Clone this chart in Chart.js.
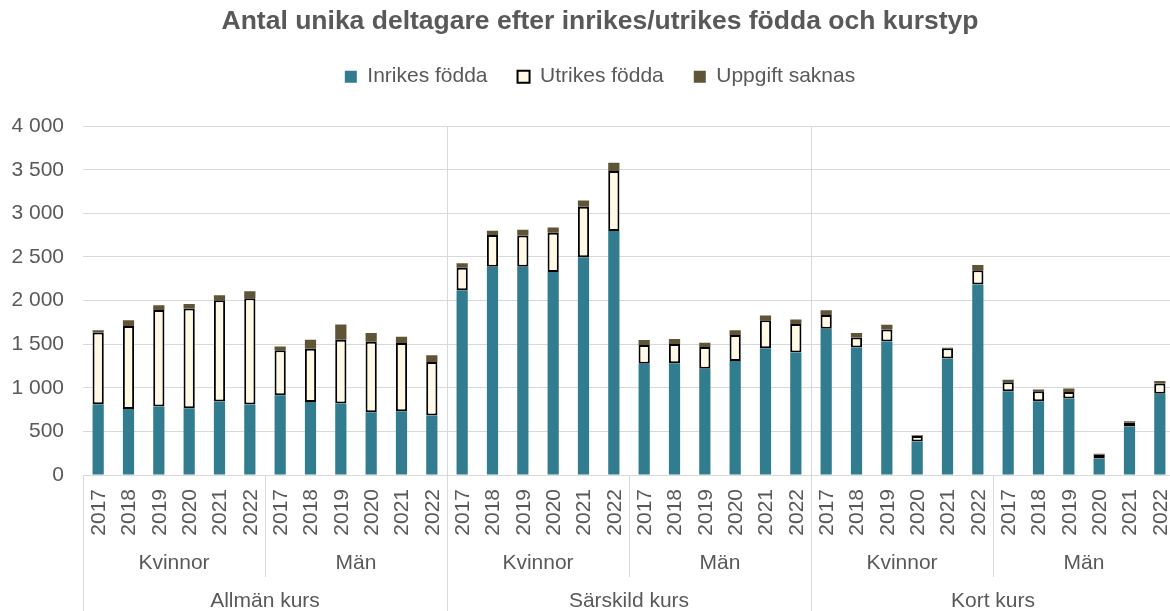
<!DOCTYPE html>
<html lang="sv">
<head>
<meta charset="utf-8">
<title>Antal unika deltagare</title>
<script src="https://cdn.jsdelivr.net/npm/chart.js@4.4.1/dist/chart.umd.min.js"></script>
<style>
  html, body { margin: 0; padding: 0; background: #fff; overflow: hidden; }
  canvas { display: block; }
</style>
</head>
<body>
<canvas id="chart" width="1200" height="611" style="width:1200px;height:611px"></canvas>
<script>
// Kategorier (tre nivåer)
const kurser = ["Allmän kurs", "Särskild kurs", "Kort kurs"];
const kon = ["Kvinnor", "Män"];
const ar = ["2017", "2018", "2019", "2020", "2021", "2022"];

// Värden (ordning: kurs -> kön -> år)
const inrikesFodda = [
  810, 758, 785, 766, 842, 808,
  914, 838, 819, 720, 731, 682,
  2118, 2389, 2389, 2328, 2496, 2797,
  1276, 1280, 1219, 1307, 1452, 1406,
  1676, 1463, 1532, 385, 1337, 2183,
  960, 846, 876, 190, 556, 933
];
const utrikesFodda = [
  825, 950, 1108, 1143, 1162, 1219,
  515, 610, 732, 808, 782, 613,
  259, 362, 358, 449, 579, 689,
  214, 221, 248, 297, 323, 324,
  160, 114, 137, 61, 115, 164,
  103, 114, 76, 42, 46, 115
];
const uppgiftSaknas = [
  25, 65, 54, 53, 57, 80,
  45, 103, 175, 99, 72, 77,
  50, 49, 65, 61, 72, 95,
  57, 57, 49, 57, 54, 53,
  54, 50, 53, 11, 8, 61,
  30, 19, 39, 12, 15, 30
];

// Y-axelns steg
const yMax = 4000;
const yStep = 500;

const textColor = "#595959";
const gridColor = "#d9d9d9";
const fontFamily = "'Liberation Sans', Arial, sans-serif";

// Etiketter för varje stapel
const labels = [];
kurser.forEach(k => kon.forEach(g => ar.forEach(a => labels.push([a, g, k]))));

function formatTal(v) {
  return String(v).replace(/\B(?=(\d{3})+(?!\d))/g, " ");
}

Chart.defaults.font.family = fontFamily;
Chart.defaults.color = textColor;

// Extra luft under legenden
const legendMargin = {
  id: "legendMargin",
  beforeInit(chart) {
    const origFit = chart.legend.fit;
    chart.legend.fit = function () {
      origFit.bind(chart.legend)();
      this.height += 29;
    };
  }
};

// Flernivå-etiketter och avgränsare under x-axeln
const multiAxis = {
  id: "multiAxis",
  afterDraw(chart) {
    const ctx = chart.ctx;
    const x = chart.scales.x;
    const area = chart.chartArea;
    const n = labels.length;
    const edge = i => {
      if (i <= 0) return x.left;
      if (i >= n) return x.right;
      return (x.getPixelForValue(i - 1) + x.getPixelForValue(i)) / 2;
    };

    ctx.save();
    ctx.strokeStyle = gridColor;
    ctx.lineWidth = 1;

    // vänster kant
    ctx.beginPath();
    ctx.moveTo(Math.round(edge(0)) + 0.5, area.bottom);
    ctx.lineTo(Math.round(edge(0)) + 0.5, 611);
    ctx.stroke();

    // kurs-gränser, genom hela diagrammet
    for (let k = 1; k < kurser.length; k++) {
      const px = Math.round(edge(k * 12)) + 0.5;
      ctx.beginPath();
      ctx.moveTo(px, area.top);
      ctx.lineTo(px, 611);
      ctx.stroke();
    }
    // köns-gränser
    for (let k = 0; k < kurser.length; k++) {
      const px = Math.round(edge(k * 12 + 6)) + 0.5;
      ctx.beginPath();
      ctx.moveTo(px, area.bottom);
      ctx.lineTo(px, 577);
      ctx.stroke();
    }

    ctx.fillStyle = textColor;
    ctx.font = "21px " + fontFamily;

    // år, roterade
    labels.forEach((l, i) => {
      const px = x.getPixelForValue(i);
      ctx.save();
      ctx.translate(px, 489);
      ctx.rotate(-Math.PI / 2);
      ctx.textAlign = "right";
      ctx.textBaseline = "middle";
      ctx.fillText(l[0], 0, 1);
      ctx.restore();
    });

    ctx.textAlign = "center";
    ctx.textBaseline = "middle";
    // kön och kurs
    for (let k = 0; k < kurser.length; k++) {
      for (let g = 0; g < kon.length; g++) {
        const s = k * 12 + g * 6;
        ctx.fillText(kon[g], (edge(s) + edge(s + 6)) / 2, 563);
      }
      ctx.fillText(kurser[k], (edge(k * 12) + edge(k * 12 + 12)) / 2, 601);
    }
    ctx.restore();
  }
};

new Chart(document.getElementById("chart"), {
  type: "bar",
  data: {
    labels: labels,
    datasets: [
      {
        label: "Inrikes födda",
        data: inrikesFodda,
        backgroundColor: "#317c8f",
        borderWidth: 0
      },
      {
        label: "Utrikes födda",
        data: utrikesFodda,
        backgroundColor: "#fff9e6",
        borderColor: "#000000",
        borderWidth: 2,
        borderSkipped: false
      },
      {
        label: "Uppgift saknas",
        data: uppgiftSaknas,
        backgroundColor: "#605437",
        borderWidth: 0
      }
    ]
  },
  options: {
    responsive: false,
    animation: false,
    devicePixelRatio: 1,
    categoryPercentage: 1,
    barPercentage: 0.37,
    layout: { padding: { top: 0, bottom: 136, left: 0, right: 0 } },
    plugins: {
      title: {
        display: true,
        text: "Antal unika deltagare efter inrikes/utrikes födda och kurstyp",
        color: textColor,
        font: { size: 26.5, weight: "bold", lineHeight: 1.1 },
        padding: { top: 7, bottom: 0 }
      },
      legend: {
        display: true,
        labels: {
          color: textColor,
          font: { size: 21 },
          boxWidth: 12,
          boxHeight: 12,
          padding: 30
        }
      },
      tooltip: { enabled: false }
    },
    scales: {
      x: {
        stacked: true,
        display: false
      },
      y: {
        stacked: true,
        min: 0,
        max: yMax,
        afterFit(scale) { scale.width = 83; },
        border: { display: false },
        grid: { color: gridColor, lineWidth: 1, drawTicks: false },
        ticks: {
          stepSize: yStep,
          padding: 19,
          color: textColor,
          font: { size: 21 },
          callback: v => formatTal(v)
        }
      },
      // tom axel till höger, bara för utrymme
      yPad: {
        position: "right",
        display: true,
        min: 0,
        max: yMax,
        afterFit(scale) { scale.width = 25; },
        border: { display: false },
        grid: { display: false },
        ticks: { display: false }
      }
    }
  },
  plugins: [legendMargin, multiAxis]
});
</script>
</body>
</html>
